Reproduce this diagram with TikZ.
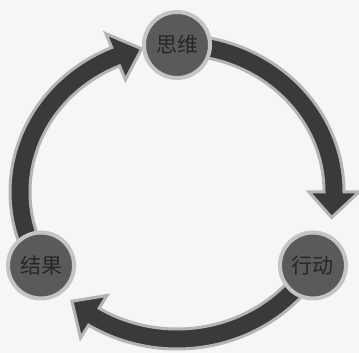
\documentclass[tikz,border=0pt]{standalone}
\usepackage{fontspec}
\newfontfamily\cjk{Noto Sans CJK SC}
\usetikzlibrary{calc}

\begin{document}
\begin{tikzpicture}[
  x=1pt, y=1pt,
  stage/.style={circle, fill=cNode, draw=cRing, line width=4pt,
    minimum size=66pt, inner sep=0pt, text=cText,
    font=\cjk\fontsize{21}{21}\selectfont},
  band/.style={fill=cArrow, draw=cEdge, line width=3pt, miter limit=20},
]
\definecolor{cArrow}{HTML}{3A3A3A}
\definecolor{cEdge}{HTML}{B4B4B4}
\definecolor{cNode}{HTML}{5A5A5A}
\definecolor{cRing}{HTML}{C4C4C4}
\definecolor{cText}{HTML}{262626}
\definecolor{cPaper}{HTML}{F6F6F6}

\useasboundingbox[fill=cPaper] (0,0) rectangle (359,353);

% ============================================================================
% cycle: ellipse through the three stages
% ============================================================================
\pgfmathsetmacro{\cx}{177}
\pgfmathsetmacro{\cy}{161}
\pgfmathsetmacro{\rx}{157}
\pgfmathsetmacro{\ry}{147}
\pgfmathsetmacro{\shaft}{10}   % half width of the arrow body
\pgfmathsetmacro{\head}{25}    % half width of the arrow head
\pgfmathsetmacro{\headA}{10}   % head length, in degrees
\coordinate (O) at (\cx,\cy);

% three curved arrows, clockwise: start angle / tip angle
\foreach \a/\t in {90/-10, -30/-132, 210/103} {
  \pgfmathsetmacro{\h}{\t + \headA}
  \pgfmathsetmacro{\rxo}{\rx + \shaft}
  \pgfmathsetmacro{\ryo}{\ry + \shaft}
  \pgfmathsetmacro{\rxi}{\rx - \shaft}
  \pgfmathsetmacro{\ryi}{\ry - \shaft}
  \pgfmathsetmacro{\rxho}{\rx + \head}
  \pgfmathsetmacro{\ryho}{\ry + \head}
  \pgfmathsetmacro{\rxhi}{\rx - \head}
  \pgfmathsetmacro{\ryhi}{\ry - \head}
  \draw[band, shift={(O)}]
    (\a:{\rxo} and {\ryo})
    arc[start angle=\a, end angle=\h, x radius=\rxo, y radius=\ryo]
    -- (\h:{\rxho} and {\ryho})
    -- (\t:{\rx} and {\ry})
    -- (\h:{\rxhi} and {\ryhi})
    -- (\h:{\rxi} and {\ryi})
    arc[start angle=\h, end angle=\a, x radius=\rxi, y radius=\ryi]
    -- cycle;
}

% ============================================================================
% stages
% ============================================================================
\node[stage] (think)  at ($(O)+(90:{\rx} and {\ry})$)  {思维};
\node[stage] (act)    at ($(O)+(-30:{\rx} and {\ry})$) {行动};
\node[stage] (result) at ($(O)+(210:{\rx} and {\ry})$) {结果};

\end{tikzpicture}
\end{document}
